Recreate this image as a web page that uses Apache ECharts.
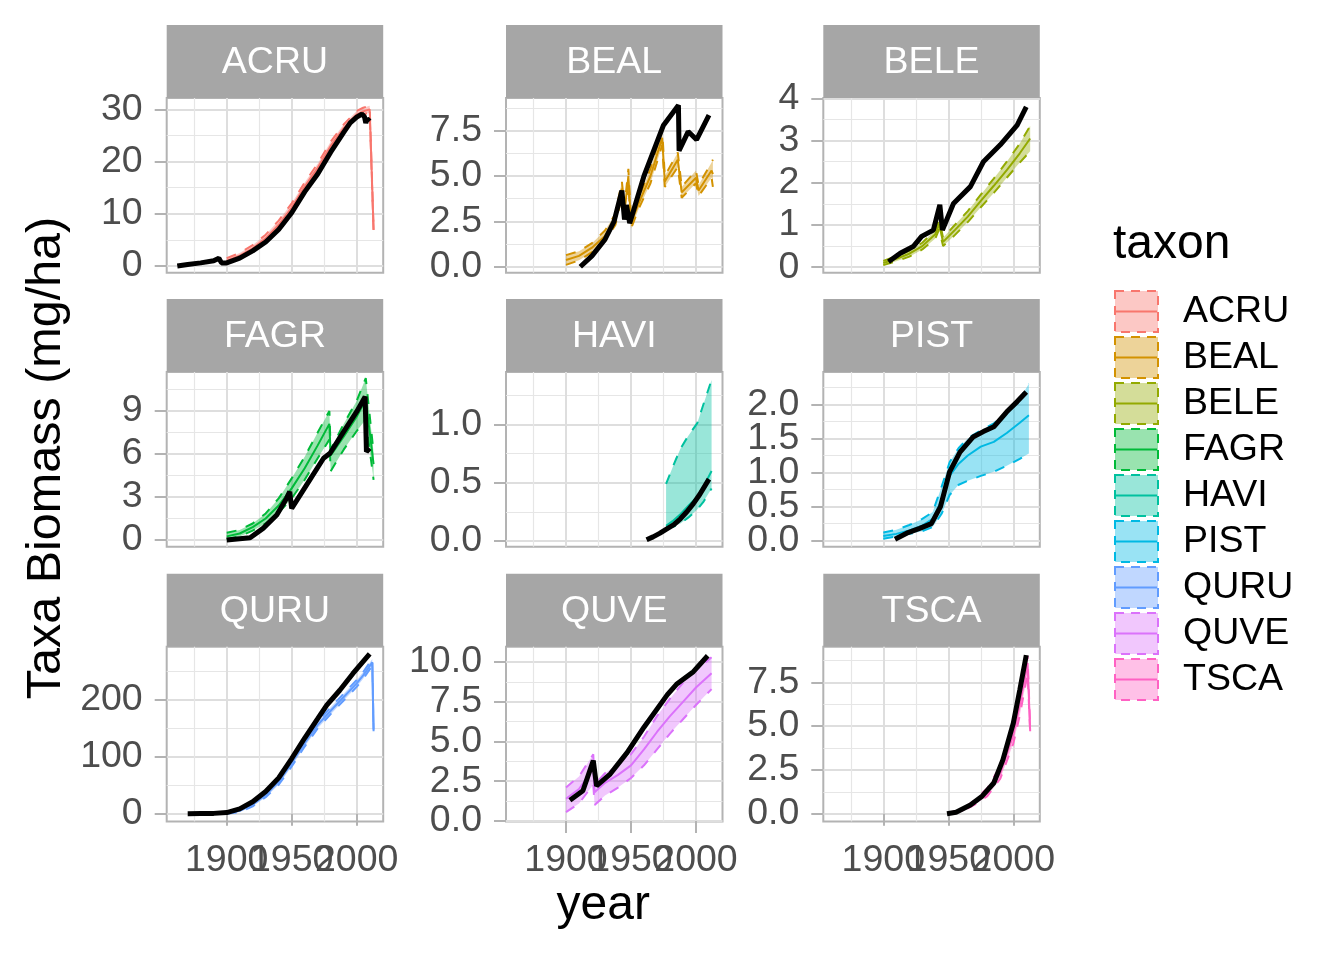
<!DOCTYPE html>
<html>
<head>
<meta charset="utf-8">
<script src="https://cdn.jsdelivr.net/npm/echarts@6/dist/echarts.min.js"></script>
<style>
html, body { margin: 0; padding: 0; background: #fff; }
#chart { width: 1344px; height: 960px; }
</style>
</head>
<body>
<div id="chart"></div>
<script>
// taxa + ggplot hue colours
const taxa = ['ACRU', 'BEAL', 'BELE', 'FAGR', 'HAVI', 'PIST', 'QURU', 'QUVE', 'TSCA'];
const taxaColors = ['#F8766D', '#D39200', '#93AA00', '#00BA38', '#00C19F', '#00B9E3', '#619CFF', '#DB72FB', '#FF61C3'];

// model ribbon (lo / median / hi) and observed (black) series, per taxon
const acruYears = [1900, 1910, 1920, 1930, 1940, 1950, 1960, 1970, 1980, 1990, 2000, 2005, 2010, 2013];
const acruLo = [0.7, 1.6, 2.9, 4.7, 7.2, 10.4, 14.4, 18.0, 22.2, 25.7, 28.4, 29.0, 29.4, 6.6];
const acruMed = [1.0, 2.0, 3.4, 5.3, 7.9, 11.2, 15.2, 18.8, 23.0, 26.4, 29.0, 29.6, 30.0, 6.9];
const acruHi = [1.5, 2.5, 4.0, 6.0, 8.7, 12.0, 16.0, 19.6, 23.8, 27.1, 29.7, 30.3, 30.7, 7.2];
const acruObsYears = [1862, 1870, 1880, 1890, 1894, 1896, 1900, 1910, 1920, 1930, 1940, 1950, 1960, 1970, 1980, 1990, 1995, 2000, 2004, 2006, 2007, 2008, 2010];
const acruObs = [0.0, 0.3, 0.6, 1.0, 1.5, 0.6, 0.6, 1.5, 2.9, 4.6, 7.0, 10.2, 14.2, 17.6, 21.8, 25.6, 27.4, 28.5, 29.1, 28.6, 27.4, 28.2, 27.7];

const bealYears = [1900, 1910, 1920, 1930, 1938, 1943, 1945, 1948, 1950, 1956, 1965, 1974, 1976, 1986, 1989, 2000, 2002, 2012, 2013];
const bealLo = [0.1, 0.35, 0.8, 1.4, 2.3, 3.9, 2.7, 4.6, 2.1, 3.2, 4.6, 6.7, 4.4, 5.5, 3.8, 4.6, 3.9, 4.9, 4.4];
const bealMed = [0.37, 0.6, 1.05, 1.7, 2.6, 4.3, 3.0, 5.0, 2.4, 3.5, 5.0, 7.1, 4.7, 5.9, 4.1, 4.9, 4.2, 5.3, 5.1];
const bealHi = [0.64, 0.85, 1.3, 2.0, 2.9, 4.7, 3.3, 5.4, 2.7, 3.8, 5.4, 7.6, 5.0, 6.3, 4.4, 5.3, 4.5, 5.75, 5.9];
const bealObsYears = [1911, 1920, 1930, 1937, 1943, 1945, 1946.5, 1949, 1960, 1975, 1986.5, 1987, 1994, 2000.5, 2010];
const bealObs = [0.0, 0.6, 1.5, 2.5, 4.2, 2.6, 3.4, 2.4, 5.0, 7.8, 8.9, 6.4, 7.45, 7.0, 8.35];

const beleYears = [1900, 1910, 1920, 1930, 1940, 1943, 1946, 1955, 1965, 1975, 1985, 1995, 2005, 2013];
const beleLo = [0.05, 0.14, 0.25, 0.42, 0.68, 0.9, 0.5, 0.76, 1.07, 1.42, 1.76, 2.12, 2.48, 2.75];
const beleMed = [0.1, 0.2, 0.32, 0.5, 0.78, 1.02, 0.6, 0.88, 1.2, 1.57, 1.93, 2.3, 2.7, 3.05];
const beleHi = [0.15, 0.26, 0.39, 0.58, 0.88, 1.12, 0.7, 1.0, 1.33, 1.72, 2.1, 2.5, 2.93, 3.35];
const beleObsYears = [1904, 1913, 1923, 1929.5, 1938.5, 1943.5, 1945.5, 1954, 1967, 1977, 1990, 2003, 2010];
const beleObs = [0.13, 0.33, 0.49, 0.73, 0.88, 1.48, 0.88, 1.51, 1.91, 2.5, 2.9, 3.37, 3.8];

const fagrYears = [1900, 1910, 1920, 1930, 1940, 1950, 1960, 1970, 1979, 1980, 1990, 2000, 2007, 2013];
const fagrLo = [0.05, 0.25, 0.65, 1.15, 1.9, 2.9, 4.2, 5.7, 7.0, 4.8, 6.3, 7.6, 8.4, 4.2];
const fagrMed = [0.25, 0.45, 0.9, 1.5, 2.4, 3.6, 5.0, 6.6, 8.1, 5.9, 7.2, 8.6, 9.8, 5.3];
const fagrHi = [0.5, 0.7, 1.15, 1.85, 2.9, 4.3, 5.8, 7.5, 9.0, 6.3, 8.1, 9.7, 11.3, 6.1];
const fagrObsYears = [1900, 1918, 1928, 1938.5, 1946, 1948.5, 1950, 1961.5, 1974.5, 1979.5, 1990, 2000, 2006.5, 2007.5, 2010];
const fagrObs = [0.0, 0.16, 0.81, 1.74, 2.9, 3.37, 2.2, 3.84, 5.7, 6.05, 7.56, 8.95, 10.0, 6.16, 6.4];

const haviYears = [1977, 1982, 1988, 1994, 2001, 2006, 2012];
const haviLo = [0.12, 0.12, 0.15, 0.2, 0.27, 0.34, 0.45];
const haviMed = [0.13, 0.17, 0.23, 0.3, 0.38, 0.47, 0.6];
const haviHi = [0.49, 0.63, 0.79, 0.9, 1.01, 1.18, 1.38];
const haviObsYears = [1962, 1967, 1972, 1977, 1983, 1988, 1993, 1998, 2003, 2010];
const haviObs = [0.01, 0.035, 0.065, 0.1, 0.14, 0.19, 0.25, 0.32, 0.4, 0.53];

const pistYears = [1900, 1910, 1920, 1930, 1938, 1945, 1951, 1958, 1965, 1975, 1985, 1995, 2005, 2012];
const pistLo = [0.03, 0.06, 0.1, 0.14, 0.2, 0.4, 0.67, 0.82, 0.88, 0.95, 1.01, 1.1, 1.2, 1.28];
const pistMed = [0.07, 0.1, 0.15, 0.22, 0.32, 0.6, 0.95, 1.13, 1.25, 1.38, 1.45, 1.58, 1.73, 1.84];
const pistHi = [0.12, 0.16, 0.23, 0.32, 0.42, 0.8, 1.15, 1.36, 1.5, 1.62, 1.72, 1.88, 2.08, 2.3];
const pistObsYears = [1909, 1918, 1928, 1937, 1944, 1951, 1959, 1969, 1977, 1985, 1995, 2003, 2010];
const pistObs = [0.02, 0.11, 0.18, 0.25, 0.5, 1.01, 1.3, 1.52, 1.6, 1.67, 1.89, 2.04, 2.18];

const quruYears = [1900, 1910, 1920, 1930, 1940, 1950, 1960, 1970, 1980, 1990, 2000, 2005, 2012, 2013];
const quruLo = [0, 3, 13, 29, 51, 83, 118, 150, 175, 199, 223, 237, 260, 143];
const quruMed = [1, 5, 16, 33, 56, 89, 124, 156, 181, 205, 229, 243, 266, 145];
const quruHi = [2, 7, 19, 37, 61, 95, 130, 162, 187, 211, 235, 249, 272, 148];
const quruObsYears = [1870, 1880, 1890, 1900, 1910, 1920, 1930, 1940, 1950, 1960, 1970, 1977, 1987, 1997, 2010];
const quruObs = [0, 0.3, 0.6, 2, 8.5, 21, 39, 63, 97, 133, 167, 191, 217, 246, 281];

const quveYears = [1900, 1910, 1921, 1922, 1930, 1940, 1950, 1960, 1970, 1980, 1990, 2000, 2012];
const quveLo = [0.55, 1.1, 2.3, 1.0, 1.6, 2.1, 2.7, 3.5, 4.5, 5.5, 6.4, 7.3, 8.3];
const quveMed = [1.4, 2.0, 3.3, 1.8, 2.4, 2.9, 3.5, 4.5, 5.6, 6.6, 7.5, 8.4, 9.3];
const quveHi = [2.1, 2.8, 4.2, 2.3, 3.0, 3.6, 4.2, 5.3, 6.6, 7.7, 8.7, 9.5, 10.3];
const quveObsYears = [1903, 1913, 1921, 1923.5, 1934, 1947, 1960, 1978, 1985, 1998, 2009];
const quveObs = [1.3, 1.9, 3.8, 2.2, 2.95, 4.3, 5.9, 7.95, 8.6, 9.4, 10.4];

const tscaYears = [1950, 1960, 1970, 1980, 1990, 2000, 2005, 2011, 2013];
const tscaLo = [0.0, 0.1, 0.5, 1.0, 2.0, 4.0, 5.6, 8.0, 4.6];
const tscaMed = [0.02, 0.15, 0.6, 1.2, 2.3, 4.5, 6.2, 8.6, 4.7];
const tscaHi = [0.05, 0.2, 0.75, 1.45, 2.7, 5.0, 6.9, 9.0, 4.9];
const tscaObsYears = [1949, 1956, 1967, 1976, 1985, 1992, 2000, 2005, 2010];
const tscaObs = [0, 0.08, 0.5, 1.0, 1.75, 3.07, 5.16, 7.06, 9.05];

// axes: shared x, free y
const xMin = 1853.85, xMax = 2020.4;
const xBreaks = [1900, 1950, 2000];
const xMinorBreaks = [1875, 1925, 1975];
const yMin = [-1.28, -0.33, -0.13, -0.47, -0.049, -0.088, -13.5, -0.03, -0.44];
const yMax = [32.17, 9.30, 4.01, 11.72, 1.448, 2.474, 293.5, 10.97, 9.53];
const yBreaks = [
  [0, 10, 20, 30], [0, 2.5, 5, 7.5], [0, 1, 2, 3, 4],
  [0, 3, 6, 9], [0, 0.5, 1], [0, 0.5, 1, 1.5, 2],
  [0, 100, 200], [0, 2.5, 5, 7.5, 10], [0, 2.5, 5, 7.5]
];
const yMinorBreaks = [
  [5, 15, 25], [1.25, 3.75, 6.25, 8.75], [0.5, 1.5, 2.5, 3.5],
  [1.5, 4.5, 7.5, 10.5], [0.25, 0.75, 1.25], [0.25, 0.75, 1.25, 1.75, 2.25],
  [50, 150, 250], [1.25, 3.75, 6.25, 8.75], [1.25, 3.75, 6.25, 8.75]
];
const yDigits = [0, 1, 0, 0, 1, 1, 0, 1, 1];

const model = {
  ACRU: {years: acruYears, lo: acruLo, med: acruMed, hi: acruHi},
  BEAL: {years: bealYears, lo: bealLo, med: bealMed, hi: bealHi},
  BELE: {years: beleYears, lo: beleLo, med: beleMed, hi: beleHi},
  FAGR: {years: fagrYears, lo: fagrLo, med: fagrMed, hi: fagrHi},
  HAVI: {years: haviYears, lo: haviLo, med: haviMed, hi: haviHi},
  PIST: {years: pistYears, lo: pistLo, med: pistMed, hi: pistHi},
  QURU: {years: quruYears, lo: quruLo, med: quruMed, hi: quruHi},
  QUVE: {years: quveYears, lo: quveLo, med: quveMed, hi: quveHi},
  TSCA: {years: tscaYears, lo: tscaLo, med: tscaMed, hi: tscaHi}
};
const obs = {
  ACRU: [acruObsYears, acruObs], BEAL: [bealObsYears, bealObs], BELE: [beleObsYears, beleObs],
  FAGR: [fagrObsYears, fagrObs], HAVI: [haviObsYears, haviObs], PIST: [pistObsYears, pistObs],
  QURU: [quruObsYears, quruObs], QUVE: [quveObsYears, quveObs], TSCA: [tscaObsYears, tscaObs]
};

const fontFamily = "'Liberation Sans', Arial, sans-serif";
const colLeft = [166.7, 506, 823.3];
const rowTop = [98, 372, 646.7];
const panelW = 216.5, panelH = 174.7, stripH = 73;
const dash = [10, 10];

function rgba(hex, a) {
  const n = parseInt(hex.slice(1), 16);
  return 'rgba(' + (n >> 16) + ',' + ((n >> 8) & 255) + ',' + (n & 255) + ',' + a + ')';
}
// echarts drops labels that crowd each other; ggplot keeps them all,
// so the labels are shared between the two axes of a panel (every other one)
const evens = a => a.filter((v, k) => k % 2 === 0);
const odds = a => a.filter((v, k) => k % 2 === 1);

const grids = [], xAxes = [], yAxes = [], series = [], graphics = [];

taxa.forEach((t, i) => {
  const col = i % 3, row = Math.floor(i / 3);
  const bottomRow = row === 2;
  grids.push({
    left: colLeft[col], top: rowTop[row], width: panelW, height: panelH,
    show: true, borderColor: '#B3B3B3', borderWidth: 2, backgroundColor: 'transparent',
    containLabel: false, outerBoundsMode: 'none'
  });
  const xLabel = {
    show: bottomRow, interval: 0, margin: 20, fontSize: 37.5, color: '#4D4D4D', fontFamily: fontFamily,
    hideOverlap: false, showMinLabel: true, showMaxLabel: true, formatter: v => String(v)
  };
  const yLabel = {
    show: true, interval: 0, margin: 24, fontSize: 37.5, color: '#4D4D4D', fontFamily: fontFamily,
    padding: [3, 0, 0, 0],
    hideOverlap: false, showMinLabel: true, showMaxLabel: true,
    formatter: v => Number(v).toFixed(yDigits[i])
  };
  // major x
  xAxes.push({
    type: 'value', gridIndex: i, position: 'bottom', min: xMin, max: xMax,
    axisLine: {show: false},
    axisTick: {show: bottomRow, customValues: xBreaks, length: 12, lineStyle: {color: '#B3B3B3', width: 2}},
    axisLabel: Object.assign({customValues: evens(xBreaks)}, xLabel),
    splitLine: {show: true, lineStyle: {color: '#DEDEDE', width: 2}}
  });
  // minor x
  xAxes.push({
    type: 'value', gridIndex: i, position: 'bottom', min: xMin, max: xMax,
    axisLine: {show: false},
    axisTick: {show: false, customValues: xMinorBreaks},
    axisLabel: Object.assign({customValues: odds(xBreaks)}, xLabel),
    splitLine: {show: true, lineStyle: {color: '#E6E6E6', width: 1.2}}
  });
  // major y
  yAxes.push({
    type: 'value', gridIndex: i, position: 'left', min: yMin[i], max: yMax[i],
    axisLine: {show: false},
    axisTick: {show: true, customValues: yBreaks[i], length: 12, lineStyle: {color: '#B3B3B3', width: 2}},
    axisLabel: Object.assign({customValues: evens(yBreaks[i])}, yLabel),
    splitLine: {show: true, lineStyle: {color: '#DEDEDE', width: 2}}
  });
  // minor y
  yAxes.push({
    type: 'value', gridIndex: i, position: 'left', min: yMin[i], max: yMax[i],
    axisLine: {show: false},
    axisTick: {show: false, customValues: yMinorBreaks[i]},
    axisLabel: Object.assign({customValues: odds(yBreaks[i])}, yLabel),
    splitLine: {show: true, lineStyle: {color: '#E6E6E6', width: 1.2}}
  });

  const m = model[t], c = taxaColors[i], ax = 2 * i;
  const common = {xAxisIndex: ax, yAxisIndex: ax, silent: true, animation: false, emphasis: {disabled: true}};

  // ribbon fill between lo and hi
  series.push(Object.assign({}, common, {
    type: 'custom', name: 'band ' + t,
    data: m.years.map((yr, k) => [yr, m.lo[k], m.hi[k]]),
    encode: {x: 0, y: [1, 2]},
    renderItem: (params, api) => {
      if (params.dataIndexInside !== 0) return;
      const n = params.dataInsideLength, pts = [];
      for (let k = 0; k < n; k++) pts.push(api.coord([api.value(0, k), api.value(2, k)]));
      for (let k = n - 1; k >= 0; k--) pts.push(api.coord([api.value(0, k), api.value(1, k)]));
      return {type: 'polygon', shape: {points: pts}, style: {fill: rgba(c, 0.4)}, silent: true};
    }
  }));
  series.push(Object.assign({}, common, {
    type: 'line', name: 'lo ' + t, symbol: 'none',
    data: m.years.map((yr, k) => [yr, m.lo[k]]),
    lineStyle: {color: c, width: 2, type: dash}
  }));
  series.push(Object.assign({}, common, {
    type: 'line', name: 'hi ' + t, symbol: 'none',
    data: m.years.map((yr, k) => [yr, m.hi[k]]),
    lineStyle: {color: c, width: 2, type: dash}
  }));
  series.push(Object.assign({}, common, {
    type: 'line', name: t, symbol: 'none', color: c,
    data: m.years.map((yr, k) => [yr, m.med[k]]),
    lineStyle: {color: c, width: 2}
  }));
  const o = obs[t];
  series.push(Object.assign({}, common, {
    type: 'line', name: 'obs ' + t, symbol: 'none',
    data: o[0].map((yr, k) => [yr, o[1][k]]),
    lineStyle: {color: '#000', width: 5, cap: 'butt'}
  }));

  // facet strip
  graphics.push({
    type: 'rect', silent: true,
    shape: {x: colLeft[col], y: rowTop[row] - stripH, width: panelW, height: stripH},
    style: {fill: '#A6A6A6'}
  });
  graphics.push({
    type: 'text', silent: true,
    x: colLeft[col] + panelW / 2, y: rowTop[row] - stripH / 2 + 1.5,
    style: {text: t, fill: '#fff', fontSize: 37.5, fontFamily: fontFamily,
      align: 'center', verticalAlign: 'middle', textAlign: 'center', textVerticalAlign: 'middle'}
  });
});

graphics.push({
  type: 'text', silent: true, x: 47, y: 458, rotation: Math.PI / 2,
  style: {text: 'Taxa Biomass (mg/ha)', fill: '#000', fontSize: 48.5, fontFamily: fontFamily,
    align: 'center', verticalAlign: 'middle', textAlign: 'center', textVerticalAlign: 'middle'}
});
graphics.push({
  type: 'text', silent: true, x: 603.3, y: 906,
  style: {text: 'year', fill: '#000', fontSize: 48, fontFamily: fontFamily,
    align: 'center', verticalAlign: 'middle', textAlign: 'center', textVerticalAlign: 'middle'}
});
graphics.push({
  type: 'text', silent: true, x: 1113, y: 245,
  style: {text: 'taxon', fill: '#000', fontSize: 48, fontFamily: fontFamily,
    align: 'left', verticalAlign: 'middle', textAlign: 'left', textVerticalAlign: 'middle'}
});

const legendBase = {
  orient: 'vertical', left: 1114, top: 290, padding: 0,
  itemWidth: 43, itemHeight: 41, itemGap: 3, selectedMode: false, symbolKeepAspect: true
};
const legends = [
  Object.assign({}, legendBase, {
    data: taxa.map((t, i) => ({
      name: t, icon: 'rect',
      itemStyle: {color: rgba(taxaColors[i], 0.4), borderColor: taxaColors[i], borderWidth: 2, borderType: [9, 7]}
    })),
    textStyle: {fontSize: 37.5, lineHeight: 40, fontFamily: fontFamily, padding: [3, 0, 0, 20], color: '#000'}
  }),
  Object.assign({}, legendBase, {
    data: taxa.map((t, i) => ({
      name: t, icon: 'path://M0,0 M43,41 M0,19.5 L43,19.5 L43,21.5 L0,21.5 Z',
      itemStyle: {color: taxaColors[i], borderWidth: 0}
    })),
    textStyle: {fontSize: 37.5, lineHeight: 40, fontFamily: fontFamily, padding: [3, 0, 0, 20], color: 'rgba(0,0,0,0)'}
  })
];

const chart = echarts.init(document.getElementById('chart'), null, {renderer: 'canvas'});
chart.setOption({
  animation: false,
  backgroundColor: '#fff',
  grid: grids,
  xAxis: xAxes,
  yAxis: yAxes,
  legend: legends,
  graphic: graphics,
  series: series
});
</script>
</body>
</html>
